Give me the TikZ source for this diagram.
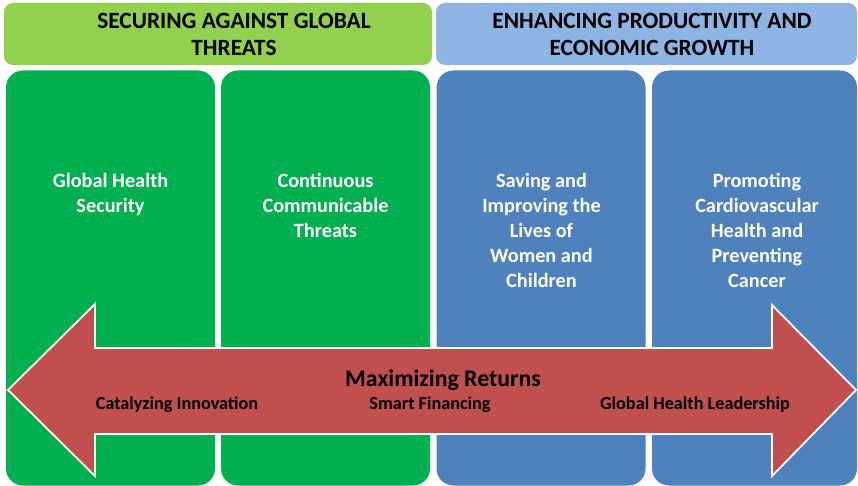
\documentclass[tikz,border=0pt]{standalone}
\usepackage{fontspec}
\setmainfont{Carlito}
\definecolor{hdrgreen}{HTML}{92D050}
\definecolor{colgreen}{HTML}{00B050}
\definecolor{hdrblue}{HTML}{8EB4E3}
\definecolor{colblue}{HTML}{4F81BD}
\definecolor{arrowred}{HTML}{C0504D}
\begin{document}
\begin{tikzpicture}[x=1pt,y=-1pt,
  header/.style={rounded corners=9pt, inner sep=0pt, minimum height=62pt},
  hdrtext/.style={inner sep=0pt, font=\bfseries\fontsize{23.3}{27}\selectfont, text=black, align=center},
  column/.style={rounded corners=17pt, inner sep=0pt, minimum width=209pt, minimum height=415pt},
  coltext/.style={anchor=north, align=center, text=white, inner sep=0pt, font=\bfseries\fontsize{20.3}{25}\selectfont},
  arrowtext/.style={text=black, inner sep=0pt, font=\bfseries\fontsize{18.2}{20}\selectfont}]
\useasboundingbox (0,0) rectangle (858,486);
\fill[white] (0,0) rectangle (858,486);

% headers
\node[header, fill=hdrgreen, minimum width=428pt] (hleft) at (218,34) {};
\node[hdrtext] (hlt) at (234,34) {SECURING AGAINST GLOBAL\\THREATS};
\node[header, fill=hdrblue, minimum width=421pt] (hright) at (646.5,34) {};
\node[hdrtext] (hrt) at (652,34) {ENHANCING PRODUCTIVITY AND\\ECONOMIC GROWTH};

% columns
\node[column, fill=colgreen] (c1) at (110.5,278) {};
\node[column, fill=colgreen] (c2) at (325.5,278) {};
\node[column, fill=colblue] (c3) at (541,278) {};
\node[column, fill=colblue, minimum width=205pt] (c4) at (754.5,278) {};

\node[coltext] (t1) at (110.5,173) {Global Health\\Security};
\node[coltext] (t2) at (325.5,173) {Continuous\\Communicable\\Threats};
\node[coltext] (t3) at (541.5,173) {Saving and\\Improving the\\Lives of\\Women and\\Children};
\node[coltext] (t4) at (757,173) {Promoting\\Cardiovascular\\Health and\\Preventing\\Cancer};

% double-headed arrow
\draw[fill=arrowred, draw=white, line width=1.8pt, line join=miter]
  (8,390) -- (95,304) -- (95,348) -- (772,348) -- (772,305) -- (856,390)
  -- (772,476) -- (772,434) -- (95,434) -- (95,476) -- cycle;

\node[text=black, inner sep=0pt, font=\bfseries\fontsize{23.8}{26}\selectfont] (mr) at (443,380) {Maximizing Returns};
\node[arrowtext] (a1) at (177,405) {Catalyzing Innovation};
\node[arrowtext] (a2) at (430,405) {Smart Financing};
\node[arrowtext] (a3) at (695,405) {Global Health Leadership};
\end{tikzpicture}
\end{document}
